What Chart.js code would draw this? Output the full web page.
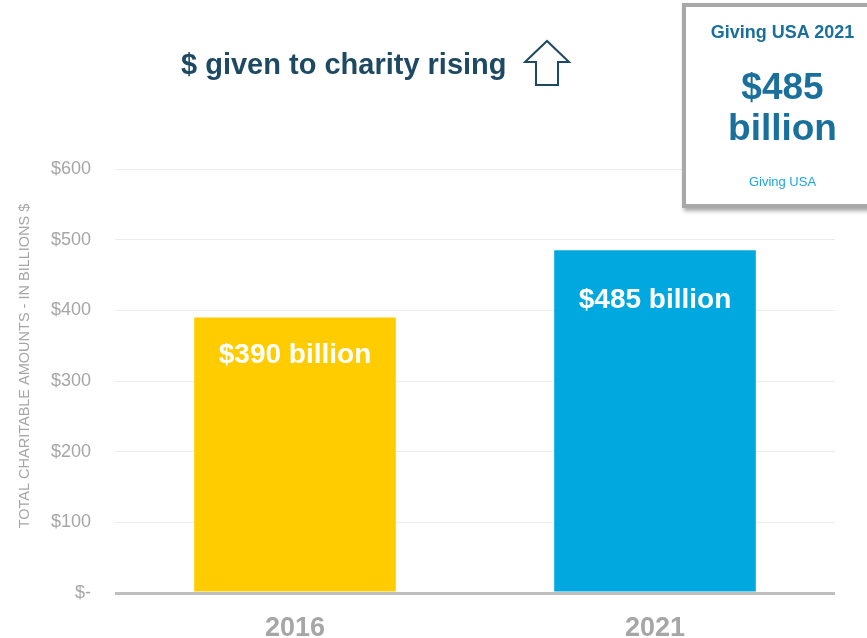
<!DOCTYPE html>
<html>
<head>
<meta charset="utf-8">
<script src="https://cdn.jsdelivr.net/npm/chart.js@4"></script>
<style>
  html, body { margin: 0; padding: 0; background: #fff; }
  body { width: 867px; height: 638px; position: relative; overflow: hidden; font-family: "Liberation Sans", Arial, sans-serif; }
  #chart-wrap { position: absolute; left: 0; top: 0; width: 867px; height: 638px; }
  .headline { position: absolute; left: 181px; top: 48px; font-size: 29px; font-weight: bold; color: #1d4a62; white-space: nowrap; }
  .arrow { position: absolute; left: 522px; top: 39px; }
  .callout {
    position: absolute; left: 682px; top: 3px; width: 193px; height: 197px;
    background: #fff; border: 4px solid #a8a8a8; box-shadow: 2px 3px 4px rgba(0,0,0,0.35);
    text-align: center; color: #19709c; font-weight: bold;
  }
  .callout .src { font-size: 18px; line-height: 20px; margin-top: 15px; }
  .callout .big { font-size: 37px; line-height: 41px; margin-top: 24px; }
  .callout .cite { font-size: 13px; font-weight: normal; color: #1ba6e0; margin-top: 26px; }
</style>
</head>
<body>
<div id="chart-wrap"><canvas id="giving-chart" width="867" height="638"></canvas></div>
<div class="headline">$ given to charity rising</div>
<svg class="arrow" width="50" height="50" viewBox="0 0 50 50">
  <polygon points="3,23 25,2 47,23 36,23 36,46 14,46 14,23" fill="#fff" stroke="#1d4a62" stroke-width="2"/>
</svg>
<div class="callout">
  <div class="src">Giving USA 2021</div>
  <div class="big">$485<br>billion</div>
  <div class="cite">Giving USA</div>
</div>
<script>
const YEARS = ["2016", "2021"];
const GIVING_BILLIONS = [390, 485];
const BAR_COLORS = ["#ffcc00", "#00a8e0"];
const Y_TICKS = [0, 100, 200, 300, 400, 500, 600];

const GREY = "#a6a6a6";
const FONT = "'Liberation Sans', Arial, sans-serif";

// white value labels inside each bar, baseline about a sixth of the way down
const barLabels = {
  id: "barLabels",
  afterDatasetsDraw(chart) {
    const { ctx } = chart;
    const meta = chart.getDatasetMeta(0);
    ctx.save();
    ctx.fillStyle = "#fff";
    ctx.font = `bold 28px ${FONT}`;
    ctx.textAlign = "center";
    ctx.textBaseline = "alphabetic";
    meta.data.forEach((bar, i) => {
      const y = bar.y + (bar.base - bar.y) * 0.168;
      ctx.fillText(`$${GIVING_BILLIONS[i]} billion`, bar.x, y);
    });
    ctx.restore();
  },
};

// rotated axis caption, drawn by hand so it can sit left of the ticks
const axisCaption = {
  id: "axisCaption",
  afterDraw(chart) {
    const { ctx } = chart;
    ctx.save();
    ctx.translate(25, 366);
    ctx.rotate(-Math.PI / 2);
    ctx.fillStyle = GREY;
    ctx.font = `14.5px ${FONT}`;
    ctx.textAlign = "center";
    ctx.textBaseline = "middle";
    ctx.fillText("TOTAL CHARITABLE AMOUNTS - IN BILLIONS $", 0, 0);
    ctx.restore();
  },
};

new Chart(document.getElementById("giving-chart"), {
  type: "bar",
  data: {
    labels: YEARS,
    datasets: [{
      data: GIVING_BILLIONS,
      backgroundColor: BAR_COLORS,
      categoryPercentage: 0.8,
      barPercentage: 0.7,
    }],
  },
  options: {
    responsive: false,
    animation: false,
    layout: { padding: { top: 169, right: 32, left: 0, bottom: 0 } },
    plugins: { legend: { display: false }, tooltip: { enabled: false } },
    scales: {
      x: {
        grid: { display: false, drawTicks: false },
        border: { display: false },
        ticks: { color: GREY, font: { family: FONT, size: 27, weight: "bold" }, padding: 19 },
        afterFit(scale) { scale.height = 45; },
      },
      y: {
        min: 0,
        max: 600,
        afterBuildTicks(scale) { scale.ticks = Y_TICKS.map(v => ({ value: v })); },
        grid: {
          drawTicks: false,
          color: ctx => (ctx.tick.value === 0 ? "#bfbfbf" : "#ececec"),
          lineWidth: ctx => (ctx.tick.value === 0 ? 3 : 1),
        },
        border: { display: false },
        ticks: {
          color: GREY,
          font: { family: FONT, size: 18 },
          padding: 24,
          callback: v => (v === 0 ? "$-" : `$${v}`),
        },
        afterFit(scale) { scale.width = 115; },
      },
    },
  },
  plugins: [barLabels, axisCaption],
});
</script>
</body>
</html>
